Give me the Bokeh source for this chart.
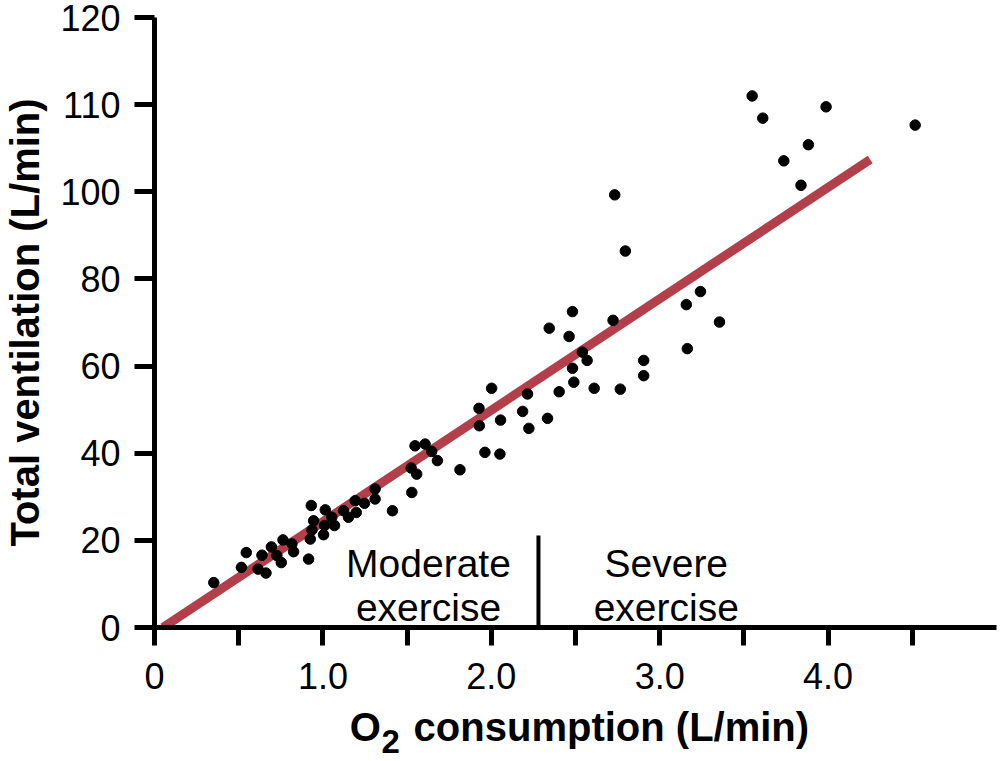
import math
from bokeh.plotting import figure
from bokeh.models import FixedTicker, Label, LinearAxis
from bokeh.embed import file_html
from bokeh.resources import INLINE

# ---- data ----
o2_consumption = [
    0.352, 0.516, 0.545, 0.615, 0.662, 0.638, 0.694, 0.727, 0.753, 0.763,
    0.816, 0.826, 0.915, 0.925, 0.935, 0.931, 0.945, 1.004, 1.010, 1.014,
    1.053, 1.069, 1.123, 1.152, 1.192, 1.198, 1.247, 1.310, 1.310, 1.413,
    1.528, 1.524, 1.557, 1.547, 1.607, 1.646, 1.680, 1.814, 1.927, 1.929,
    1.962, 2.002, 2.055, 2.051, 2.186, 2.215, 2.223, 2.334, 2.344, 2.403,
    2.462, 2.482, 2.482, 2.490, 2.541, 2.569, 2.611, 2.723, 2.766, 2.905,
    2.905, 3.158, 3.242, 3.355, 3.164, 2.733, 2.796, 3.549, 3.612, 3.988,
    4.517, 3.883, 3.737, 3.839,
]
# vertical positions on the printed axis scale (ticks every 20 units; top two
# ticks are printed as "110" and "120")
total_ventilation = [
    10.3, 13.8, 17.2, 13.4, 12.5, 16.6, 18.5, 16.5, 14.9, 20.1,
    19.2, 17.4, 15.7, 20.3, 22.4, 28.0, 24.5, 21.3, 23.4, 27.0,
    25.3, 23.4, 26.8, 25.3, 29.1, 26.4, 28.5, 29.5, 31.8, 26.8,
    31.0, 36.6, 35.2, 41.7, 42.1, 40.4, 38.3, 36.2, 50.3, 46.3,
    40.2, 54.9, 47.6, 39.8, 49.6, 53.6, 45.7, 48.0, 68.7, 54.1,
    66.8, 72.5, 59.5, 56.3, 63.2, 61.3, 54.9, 70.5, 54.7, 61.3,
    57.8, 74.1, 77.1, 70.1, 64.0, 99.3, 86.4, 122.0, 116.9, 119.5,
    115.3, 110.8, 107.1, 101.5,
]
fit_x = [0.05, 4.25]
fit_y = [0.0, 107.4]

x_tick_positions = [0, 0.5, 1.0, 1.5, 2.0, 2.5, 3.0, 3.5, 4.0, 4.5]
x_tick_labels = ["0", "", "1.0", "", "2.0", "", "3.0", "", "4.0", ""]
y_tick_positions = [0, 20, 40, 60, 80, 100, 120, 140]
y_tick_labels = ["0", "20", "40", "60", "80", "100", "110", "120"]

divider_x = 2.28
divider_top = 21.1

FONT = "Liberation Sans"

p = figure(width=1000, height=760, x_range=(0, 5.0), y_range=(0, 140),
           output_backend="svg", toolbar_location=None,
           min_border_left=152, min_border_right=4,
           min_border_top=17, min_border_bottom=133)
p.xgrid.visible = False
p.ygrid.visible = False
p.outline_line_color = None
p.background_fill_color = "white"
p.border_fill_color = "white"

for ax in (p.xaxis[0], p.yaxis[0]):
    ax.axis_line_width = 5
    ax.axis_line_color = "black"
    ax.major_tick_line_width = 5
    ax.major_tick_line_color = "black"
    ax.major_tick_in = 0
    ax.minor_tick_line_color = None
    ax.major_label_text_font = FONT
    ax.major_label_text_font_size = "36px"
    ax.major_label_text_color = "black"

p.xaxis[0].ticker = FixedTicker(ticks=x_tick_positions)
p.xaxis[0].major_label_overrides = {t: l for t, l in zip(x_tick_positions, x_tick_labels)}
p.xaxis[0].major_tick_out = 18
p.xaxis[0].major_label_standoff = 17

p.yaxis[0].ticker = FixedTicker(ticks=y_tick_positions)
p.yaxis[0].major_label_overrides = {t: l for t, l in zip(y_tick_positions, y_tick_labels)}
p.yaxis[0].major_tick_out = 20
p.yaxis[0].major_label_standoff = 14
p.yaxis[0].axis_label = "Total ventilation (L/min)"
p.yaxis[0].axis_label_text_font = FONT
p.yaxis[0].axis_label_text_font_size = "40px"
p.yaxis[0].axis_label_text_font_style = "bold"
p.yaxis[0].axis_label_text_color = "black"
p.yaxis[0].axis_label_standoff = 10

# x-axis title pieces ("O", subscript "2", "consumption (L/min)") as
# label-only axes under the main axis
title_pos = [1.252, 2.713]
title_txt = ["O", "consumption (L/min)"]
sub_pos = [1.403]
sub_txt = ["2"]

def label_axis(ticks, texts, size, standoff):
    a = LinearAxis(ticker=FixedTicker(ticks=ticks),
                   major_label_overrides={t: s for t, s in zip(ticks, texts)},
                   axis_line_color=None, major_tick_line_color=None,
                   minor_tick_line_color=None,
                   major_tick_in=0, major_tick_out=0,
                   major_label_standoff=standoff,
                   major_label_text_font=FONT,
                   major_label_text_font_size=size,
                   major_label_text_font_style="bold",
                   major_label_text_color="black")
    p.add_layout(a, "below")
    return a

label_axis(title_pos, title_txt, "40px", 13)
label_axis(sub_pos, sub_txt, "33px", -22)

# regression line
p.line(fit_x, fit_y, line_color="#b33f4b", line_width=9, line_cap="butt")

# data points
p.scatter(o2_consumption, total_ventilation, size=10.5, color="black")

# divider between moderate and severe exercise
p.segment(x0=[divider_x], y0=[0], x1=[divider_x], y1=[divider_top],
          line_color="black", line_width=4)

def add_label(text, x, y, size):
    p.add_layout(Label(x=x, y=y, text=text, text_font=FONT,
                       text_font_size=size, text_align="center",
                       text_baseline="alphabetic", text_color="black"))

add_label("Moderate", 1.627, 14.6, "39px")
add_label("exercise", 1.627, 4.6, "39px")
add_label("Severe", 3.039, 14.6, "39px")
add_label("exercise", 3.039, 4.6, "39px")

open("out.html", "w").write(file_html(p, INLINE))
